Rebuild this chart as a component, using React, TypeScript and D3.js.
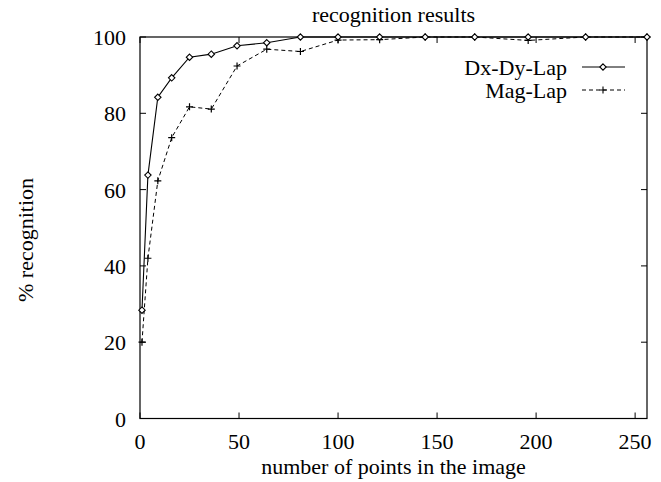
import React, { useEffect, useRef } from 'react';
import * as d3 from 'd3';

// number of points (x) used for both series
const points = [1, 4, 9, 16, 25, 36, 49, 64, 81, 100, 121, 144, 169, 196, 225, 256];
const dxDyLap = [28.4, 63.8, 84.2, 89.3, 94.7, 95.5, 97.7, 98.5, 100, 100, 100, 100, 100, 100, 100, 100];
const magLap = [20.0, 42.0, 62.3, 73.6, 81.7, 81.1, 92.4, 96.8, 96.2, 99.2, 99.3, 100, 100, 99.1, 100, 100];
const xTicks = [0, 50, 100, 150, 200, 250];
const yTicks = [0, 20, 40, 60, 80, 100];

const App = () => {
  const svgRef = useRef<SVGSVGElement>(null);

  useEffect(() => {
    document.body.style.margin = '0';
    const width = 661;
    const height = 482;
    const left = 140;
    const right = 647;
    const top = 37;
    const bottom = 418.5;
    const font = '"Liberation Serif", "Times New Roman", serif';
    const fs = 22;
    const tick = 6;

    const svg = d3.select(svgRef.current);
    svg.selectAll('*').remove();
    svg.attr('width', width).attr('height', height);

    const x = d3.scaleLinear().domain([0, 256]).range([left, right]);
    const y = d3.scaleLinear().domain([0, 100]).range([bottom, top]);

    const g = svg.append('g').style('font-family', font).style('font-size', fs + 'px');

    // ticks (inside, mirrored)
    xTicks.forEach(t => {
      g.append('line').attr('x1', x(t)).attr('x2', x(t)).attr('y1', bottom).attr('y2', bottom - tick)
        .attr('stroke', '#000');
      g.append('line').attr('x1', x(t)).attr('x2', x(t)).attr('y1', top).attr('y2', top + tick)
        .attr('stroke', '#000');
      g.append('text').attr('x', x(t)).attr('y', 449).attr('text-anchor', 'middle').text(t);
    });
    yTicks.forEach(t => {
      g.append('line').attr('x1', left).attr('x2', left + tick).attr('y1', y(t)).attr('y2', y(t))
        .attr('stroke', '#000');
      g.append('line').attr('x1', right).attr('x2', right - tick).attr('y1', y(t)).attr('y2', y(t))
        .attr('stroke', '#000');
      g.append('text').attr('x', 126).attr('y', y(t) + 8).attr('text-anchor', 'end').text(t);
    });

    // frame
    g.append('rect').attr('x', left).attr('y', top).attr('width', right - left).attr('height', bottom - top)
      .attr('fill', 'none').attr('stroke', '#000').attr('stroke-width', 1.2);

    // titles
    g.append('text').attr('x', (left + right) / 2).attr('y', 22).attr('text-anchor', 'middle')
      .text('recognition results');
    g.append('text').attr('x', (left + right) / 2).attr('y', 474).attr('text-anchor', 'middle')
      .text('number of points in the image');
    g.append('text').attr('transform', 'translate(33,240) rotate(-90)').attr('text-anchor', 'middle')
      .text('% recognition');

    const line = d3.line<number>().x((d, i) => x(points[i])).y(d => y(d));
    const diamond = 'M0,-3.2L3.2,0L0,3.2L-3.2,0Z';
    const plus = 'M-3.5,0H3.5M0,-3.5V3.5';

    // Mag-Lap (dashed, plus markers)
    g.append('path').datum(magLap).attr('d', line).attr('fill', 'none').attr('stroke', '#000')
      .attr('stroke-width', 1).attr('stroke-dasharray', '4,3');
    magLap.forEach((v, i) => {
      g.append('path').attr('d', plus).attr('transform', `translate(${x(points[i])},${y(v)})`)
        .attr('stroke', '#000').attr('stroke-width', 1.2).attr('fill', 'none');
    });

    // Dx-Dy-Lap (solid, diamond markers)
    g.append('path').datum(dxDyLap).attr('d', line).attr('fill', 'none').attr('stroke', '#000')
      .attr('stroke-width', 1.1);
    dxDyLap.forEach((v, i) => {
      g.append('path').attr('d', diamond).attr('transform', `translate(${x(points[i])},${y(v)})`)
        .attr('stroke', '#000').attr('stroke-width', 1.1).attr('fill', '#fff');
    });

    // legend
    const legend = [
      { name: 'Dx-Dy-Lap', dash: null, mark: diamond, fill: '#fff', y: 67 },
      { name: 'Mag-Lap', dash: '4,3', mark: plus, fill: 'none', y: 90 },
    ];
    legend.forEach(l => {
      g.append('text').attr('x', 567).attr('y', l.y + 8).attr('text-anchor', 'end').text(l.name);
      g.append('line').attr('x1', 582).attr('x2', 625).attr('y1', l.y).attr('y2', l.y)
        .attr('stroke', '#000').attr('stroke-dasharray', l.dash);
      g.append('path').attr('d', l.mark).attr('transform', `translate(603,${l.y})`)
        .attr('stroke', '#000').attr('stroke-width', 1.1).attr('fill', l.fill);
    });
  }, []);

  return <svg ref={svgRef} style={{ display: 'block', background: '#fff' }}></svg>;
};

export default App;
